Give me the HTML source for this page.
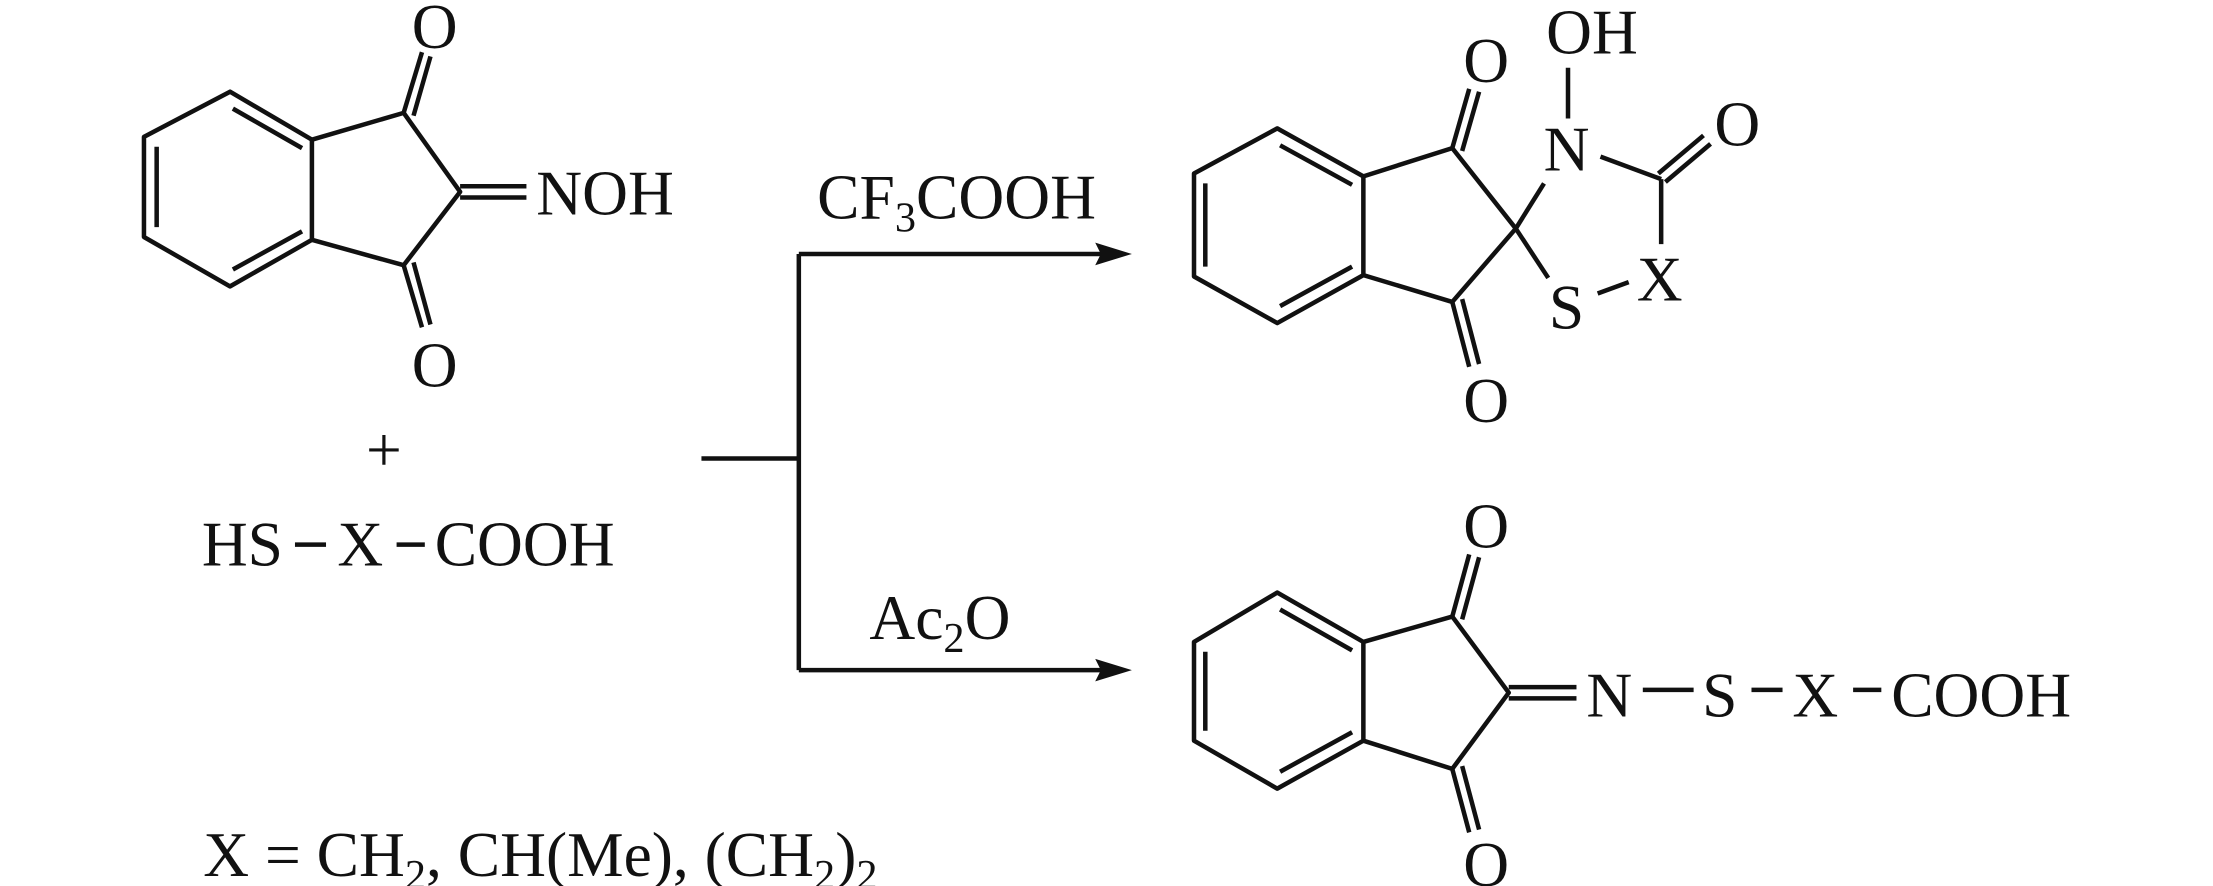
<!DOCTYPE html>
<html><head><meta charset="utf-8"><style>
html,body{margin:0;padding:0;background:#fff;}
svg{display:block;}
text{font-family:"Liberation Serif",serif;fill:#111;}
</style></head><body>
<svg width="2213" height="886" viewBox="0 0 1568 628" preserveAspectRatio="none" xmlns="http://www.w3.org/2000/svg">
<g stroke="#111" stroke-width="3.2" fill="none" stroke-linejoin="round">
<!-- left molecule -->
<polygon points="163,65 102,97 102,168 163,203 221,170 221,99"/>
<line x1="111" y1="104" x2="111" y2="161"/>
<line x1="165" y1="77" x2="214" y2="105"/>
<line x1="165" y1="191" x2="214" y2="164"/>
<polyline points="221,99 286,80 326,136 286,188 221,170"/>
<line x1="286" y1="80" x2="299" y2="37"/><line x1="293" y1="82" x2="305" y2="40"/>
<line x1="286" y1="188" x2="299" y2="232"/><line x1="293" y1="186" x2="305" y2="230"/>
<line x1="326" y1="132" x2="373" y2="132"/><line x1="326" y1="140" x2="373" y2="140"/>
<!-- HS-X-COOH dashes -->
<line x1="209" y1="386" x2="231" y2="386"/><line x1="281" y1="386" x2="301" y2="386"/>
<!-- arrows -->
<polyline points="497,325 566,325"/>
<polyline points="566,180 566,475"/>
<line x1="566" y1="180" x2="785" y2="180"/>
<line x1="566" y1="475" x2="785" y2="475"/>
<!-- top product -->
<polygon points="905,91 846,123 846,196 905,229 966,195 966,125"/>
<line x1="854" y1="130" x2="854" y2="189"/>
<line x1="907" y1="103" x2="958" y2="131"/>
<line x1="907" y1="217" x2="958" y2="189"/>
<polyline points="966,125 1029,105 1074,162 1029,214 966,195"/>
<line x1="1029" y1="105" x2="1041" y2="63"/><line x1="1036" y1="107" x2="1048" y2="65"/>
<line x1="1029" y1="214" x2="1041" y2="260"/><line x1="1036" y1="212" x2="1048" y2="258"/>
<line x1="1074" y1="162" x2="1094" y2="130"/>
<line x1="1074" y1="162" x2="1097" y2="197"/>
<line x1="1111" y1="48" x2="1111" y2="84"/>
<line x1="1134" y1="111" x2="1177" y2="127"/>
<line x1="1177" y1="127" x2="1177" y2="173"/>
<line x1="1175" y1="123" x2="1207" y2="96"/><line x1="1180" y1="129" x2="1212" y2="102"/>
<line x1="1132" y1="208" x2="1154" y2="200"/>
<!-- bottom product -->
<polygon points="905,420 846,455 846,525 905,559 966,525 966,455"/>
<line x1="854" y1="462" x2="854" y2="518"/>
<line x1="907" y1="432" x2="958" y2="461"/>
<line x1="907" y1="547" x2="958" y2="519"/>
<polyline points="966,455 1029,437 1069,491 1029,545 966,525"/>
<line x1="1029" y1="437" x2="1041" y2="393"/><line x1="1036" y1="439" x2="1048" y2="395"/>
<line x1="1029" y1="545" x2="1041" y2="590"/><line x1="1036" y1="543" x2="1048" y2="588"/>
<line x1="1069" y1="487" x2="1117" y2="487"/><line x1="1069" y1="495" x2="1117" y2="495"/>
<line x1="1164" y1="489" x2="1200" y2="489"/>
<line x1="1241" y1="489" x2="1263" y2="489"/>
<line x1="1313" y1="489" x2="1333" y2="489"/>
</g>
<g fill="#111">
<polygon points="802,180 776,172 780,180 776,188"/>
<polygon points="802,475 776,467 780,475 776,483"/>
</g>
<g font-size="45">
<text x="308" y="34" text-anchor="middle">O</text>
<text x="308" y="274" text-anchor="middle">O</text>
<text x="380" y="152">NOH</text>
<text x="272" y="334" text-anchor="middle">+</text>
<text x="143" y="401">HS</text>
<text x="239" y="401">X</text>
<text x="308" y="401">COOH</text>
<text x="579" y="155">CF<tspan font-size="30" dy="9">3</tspan><tspan dy="-9">COOH</tspan></text>
<text x="616" y="453">Ac<tspan font-size="30" dy="9">2</tspan><tspan dy="-9">O</tspan></text>
<text x="144" y="621">X = CH<tspan font-size="30" dy="9">2</tspan><tspan dy="-9">, CH(Me), (CH</tspan><tspan font-size="30" dy="9">2</tspan><tspan dy="-9">)</tspan><tspan font-size="30" dy="9">2</tspan></text>
<text x="1053" y="58" text-anchor="middle">O</text>
<text x="1053" y="299" text-anchor="middle">O</text>
<text x="1128" y="38" text-anchor="middle">OH</text>
<text x="1110" y="121" text-anchor="middle">N</text>
<text x="1231" y="103" text-anchor="middle">O</text>
<text x="1176" y="213" text-anchor="middle">X</text>
<text x="1110" y="233" text-anchor="middle">S</text>
<text x="1053" y="388" text-anchor="middle">O</text>
<text x="1053" y="628" text-anchor="middle">O</text>
<text x="1124" y="508">N</text>
<text x="1206" y="508">S</text>
<text x="1270" y="508">X</text>
<text x="1340" y="508">COOH</text>
</g>
</svg>
</body></html>
